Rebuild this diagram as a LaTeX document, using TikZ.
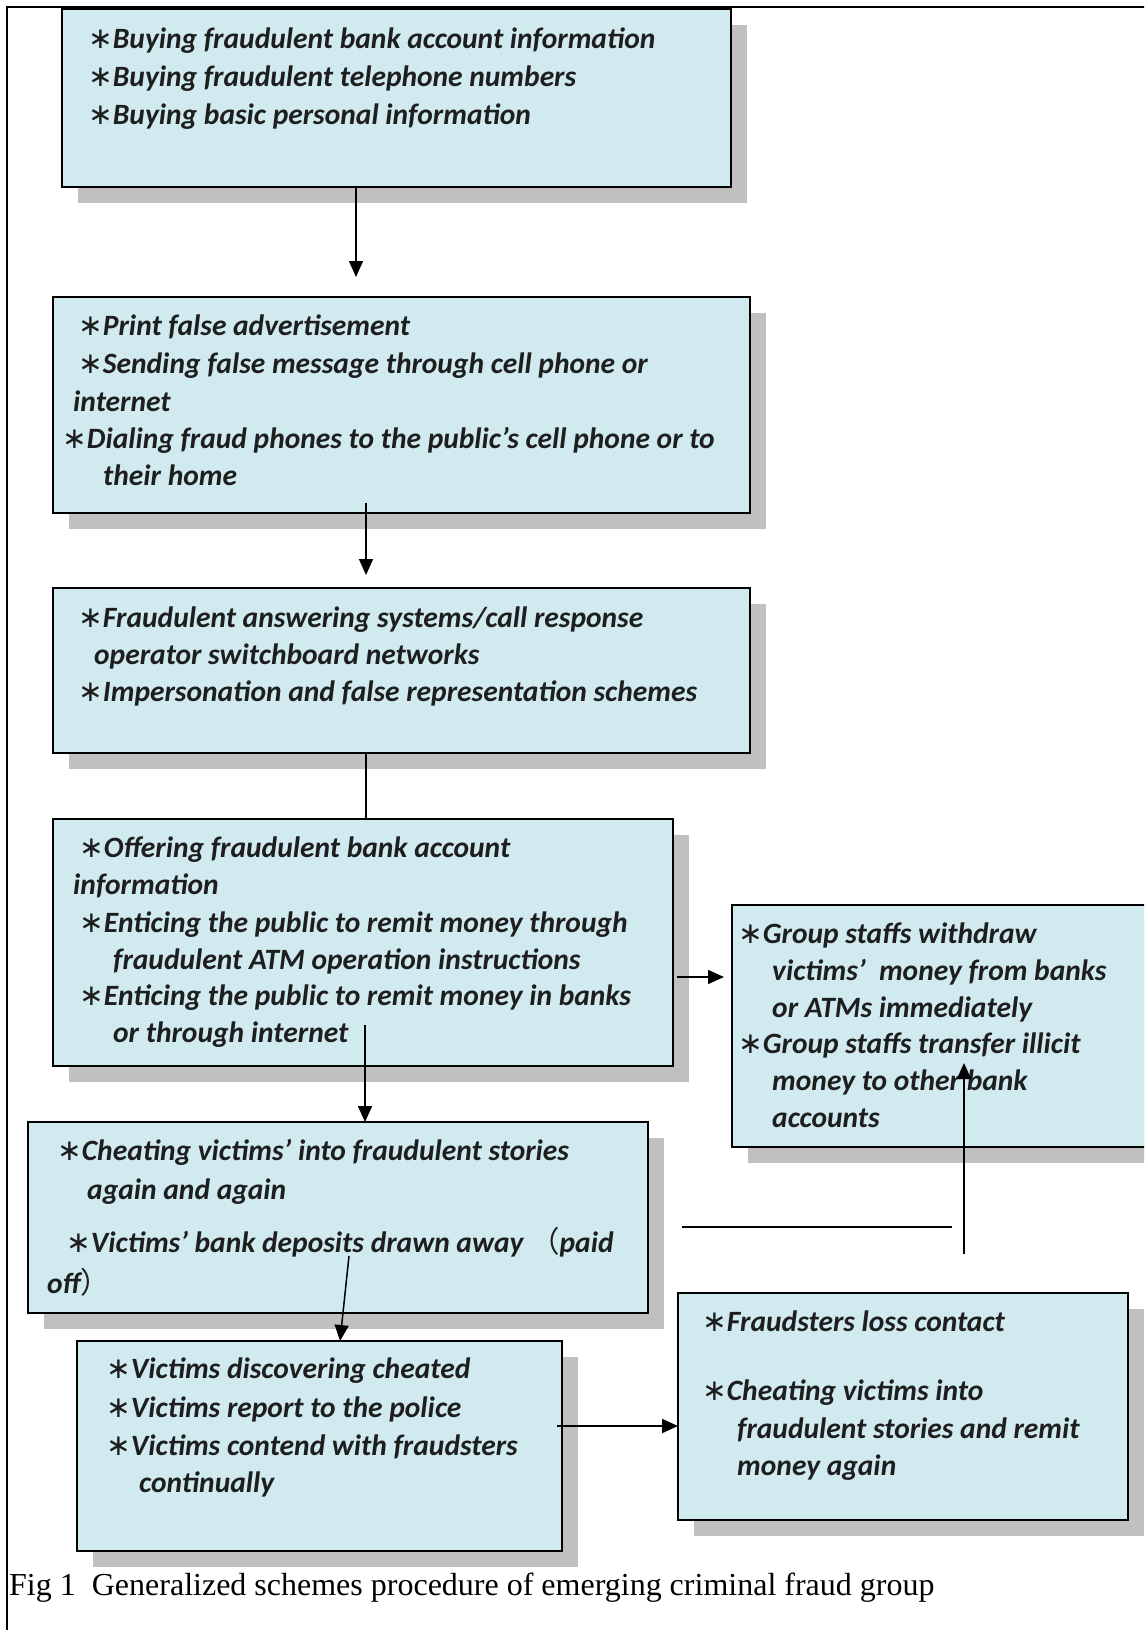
\documentclass[tikz,border=0pt]{standalone}
\usepackage{fontspec}
\setmainfont{Carlito}
\newfontfamily\symfont{DejaVu Sans}
\newfontfamily\serifcap{Liberation Serif}
\newfontfamily\cjk{Noto Sans CJK SC}
\usetikzlibrary{arrows.meta}
\definecolor{boxfill}{RGB}{208,234,240}
\definecolor{shadowgray}{RGB}{192,192,192}
\definecolor{ink}{RGB}{30,30,30}
\newcommand\st{{\symfont\mdseries\upshape ∗}}
% shadowed panel: name, x1, y1, x2, y2 (pixel-like units, y downward)
\newcommand\panel[5]{%
  \fill[shadowgray] (#2+16,#3+16) rectangle (#4+16,#5+16);
  \node[panelbox, anchor=north west, minimum width=#4-#2, minimum height=#5-#3] (#1) at (#2,#3) {};}
% one line of panel text: name, x, baseline y, text
\newcommand\tline[4]{\node[txt] (#1) at (#2,#3) {#4};}
\begin{document}
\begin{tikzpicture}[x=1pt, y=-1pt,
  panelbox/.style={draw=black, line width=2pt, fill=boxfill, inner sep=0pt, outer sep=0pt},
  txt/.style={anchor=base west, inner sep=0pt, text=ink, font=\fontsize{29.5}{34}\selectfont\bfseries\itshape},
  conn/.style={line width=1.5pt, draw=black},
  arr/.style={conn, -{Triangle[length=16pt, width=14pt]}}]
\useasboundingbox (0,0) rectangle (1144,1630);
\clip (0,0) rectangle (1144,1630);
\fill[white] (0,0) rectangle (1144,1630);
% outer frame
\draw[line width=2pt] (7,1640) -- (7,7) -- (1150,7);

% panels
\panel{b1}{62}{9}{731}{187}
\panel{b2}{53}{297}{750}{513}
\panel{b3}{53}{588}{750}{753}
\panel{b4}{53}{819}{673}{1066}
\panel{b5}{732}{905}{1160}{1147}
\panel{b6}{28}{1122}{648}{1313}
\panel{b7}{77}{1341}{562}{1551}
\panel{b8}{678}{1293}{1128}{1520}

% panel texts
\tline{t1a}{88}{48}{\st Buying fraudulent bank account information}
\tline{t1b}{88}{86}{\st Buying fraudulent telephone numbers}
\tline{t1c}{88}{124}{\st Buying basic personal information}

\tline{t2a}{78}{335}{\st Print false advertisement}
\tline{t2b}{78}{373}{\st Sending false message through cell phone or}
\tline{t2c}{73}{411}{internet}
\tline{t2d}{62}{448}{\st Dialing fraud phones to the public’s cell phone or to}
\tline{t2e}{103}{485}{their home}

\tline{t3a}{78}{627}{\st Fraudulent answering systems/call response}
\tline{t3b}{94}{664}{operator switchboard networks}
\tline{t3c}{78}{701}{\st Impersonation and false representation schemes}

\tline{t4a}{79}{857}{\st Offering fraudulent bank account}
\tline{t4b}{73}{894}{information}
\tline{t4c}{79}{932}{\st Enticing the public to remit money through}
\tline{t4d}{113}{969}{fraudulent ATM operation instructions}
\tline{t4e}{79}{1005}{\st Enticing the public to remit money in banks}
\tline{t4f}{113}{1042}{or through internet}

\tline{t5a}{738}{943}{\st Group staffs withdraw}
\tline{t5b}{772}{980}{victims’\ \ money from banks}
\tline{t5c}{772}{1017}{or ATMs immediately}
\tline{t5d}{738}{1053}{\st Group staffs transfer illicit}
\tline{t5e}{772}{1090}{money to other bank}
\tline{t5f}{772}{1127}{accounts}

\tline{t6a}{57}{1160}{\st Cheating victims’ into fraudulent stories}
\tline{t6b}{87}{1199}{again and again}
\tline{t6c}{66}{1252}{\st Victims’ bank deposits drawn away {\cjk\mdseries\upshape （}paid}
\tline{t6d}{47}{1293}{off{\cjk\mdseries\upshape ）}}

\tline{t7a}{106}{1378}{\st Victims discovering cheated}
\tline{t7b}{106}{1417}{\st Victims report to the police}
\tline{t7c}{106}{1455}{\st Victims contend with fraudsters}
\tline{t7d}{139}{1492}{continually}

\tline{t8a}{702}{1331}{\st Fraudsters loss contact}
\tline{t8b}{702}{1400}{\st Cheating victims into}
\tline{t8c}{737}{1438}{fraudulent stories and remit}
\tline{t8d}{737}{1475}{money again}

% connectors
\coordinate (a1e) at (356,277);
\draw[arr] (b1.south -| a1e) -- (a1e);
\coordinate (a2s) at (366,503);
\coordinate (a2e) at (366,575);
\draw[arr] (a2s) -- (a2e);
\draw[conn] (b3.south -| a2s) -- (b4.north -| a2s);
\coordinate (a4s) at (677,977);
\coordinate (a4e) at (724,977);
\draw[arr] (a4s) -- (a4e);
\coordinate (a5s) at (365,1025);
\draw[arr] (a5s) -- (b6.north -| a5s);
\coordinate (a6s) at (349,1256);
\coordinate (a6e) at (340,1341);
\draw[arr] (a6s) -- (a6e);
\coordinate (a7s) at (557,1426);
\draw[arr, line width=2pt] (a7s) -- (b8.west |- a7s);
\coordinate (h1) at (682,1227);
\coordinate (h2) at (952,1227);
\draw[conn] (h1) -- (h2);
\coordinate (v1) at (964,1254);
\coordinate (v2) at (964,1063);
\draw[arr] (v1) -- (v2);

% caption
\node[anchor=base west, inner sep=0pt, text=black, font=\serifcap\fontsize{32}{38}\selectfont] (cap) at (9,1595)
  {Fig 1\ \ Generalized schemes procedure of emerging criminal fraud group};
\end{tikzpicture}
\end{document}
